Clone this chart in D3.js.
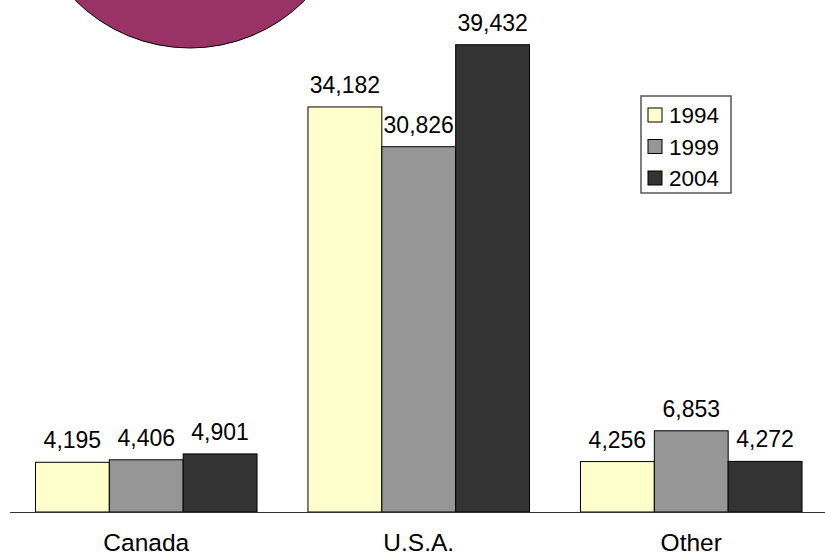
<!DOCTYPE html>
<html>
<head>
<meta charset="utf-8">
<script src="https://cdn.jsdelivr.net/npm/d3@7"></script>
<style>
  html, body { margin: 0; padding: 0; background: #ffffff; }
  svg { display: block; font-family: "Liberation Sans", Arial, sans-serif; }
</style>
</head>
<body>
<svg id="chart" width="825" height="555"></svg>
<script>
const categories = ["Canada", "U.S.A.", "Other"];
const years = ["1994", "1999", "2004"];
const values1994 = [4195, 34182, 4256];
const values1999 = [4406, 30826, 6853];
const values2004 = [4901, 39432, 4272];
const seriesColors = ["#FFFFCC", "#969696", "#333333"];

const seriesValues = [values1994, values1999, values2004];
const svg = d3.select("#chart");

// decorative circle (partially off canvas)
svg.append("circle")
  .attr("cx", 190).attr("cy", -114).attr("r", 162)
  .attr("fill", "#993366").attr("stroke", "#000").attr("stroke-width", 1);

const x0 = d3.scaleBand().domain(categories).range([10, 827.5]).paddingInner(0.187).paddingOuter(0.0935);
const x1 = d3.scaleBand().domain(years).range([0, x0.bandwidth()]);
const y = d3.scaleLinear().domain([0, 40000]).range([512, 38]);

const rows = [];
categories.forEach((c, i) => {
  years.forEach((yr, j) => rows.push({cat: c, year: yr, value: seriesValues[j][i], color: seriesColors[j]}));
});

const g = svg.append("g");
g.selectAll("rect.bar").data(rows).enter().append("rect")
  .attr("class", "bar")
  .attr("x", d => x0(d.cat) + x1(d.year))
  .attr("y", d => y(d.value))
  .attr("width", x1.bandwidth())
  .attr("height", d => y(0) - y(d.value))
  .attr("fill", d => d.color)
  .attr("stroke", "#000").attr("stroke-width", 1);

g.selectAll("text.val").data(rows).enter().append("text")
  .attr("class", "val")
  .attr("x", d => x0(d.cat) + x1(d.year) + x1.bandwidth() / 2)
  .attr("y", d => y(d.value) - 14)
  .attr("text-anchor", "middle")
  .attr("font-size", 23)
  .attr("fill", "#000")
  .text(d => d3.format(",")(d.value));

// axis
const xAxis = d3.axisBottom(x0).tickSize(0).tickPadding(0);
const ax = svg.append("g").attr("transform", `translate(0,${y(0)})`).call(xAxis);
ax.select(".domain").attr("d", `M10,0.5H825`).attr("stroke", "#333").attr("stroke-width", 1);
ax.selectAll(".tick text")
  .attr("font-size", 24.5)
  .attr("font-family", "Liberation Sans, Arial, sans-serif")
  .attr("fill", "#000")
  .attr("dy", 0)
  .attr("y", 39);

// legend
const leg = svg.append("g");
leg.append("rect").attr("x", 641).attr("y", 96).attr("width", 90).attr("height", 97)
  .attr("fill", "#fff").attr("stroke", "#555").attr("stroke-width", 1.5);
years.forEach((yr, j) => {
  const cy = 115 + j * 31.5;
  leg.append("rect").attr("x", 648).attr("y", cy - 7).attr("width", 14).attr("height", 14)
    .attr("fill", seriesColors[j]).attr("stroke", "#000").attr("stroke-width", 1);
  leg.append("text").attr("x", 669).attr("y", cy + 8).attr("font-size", 22.5).attr("fill", "#000").text(yr);
});
</script>
</body>
</html>
